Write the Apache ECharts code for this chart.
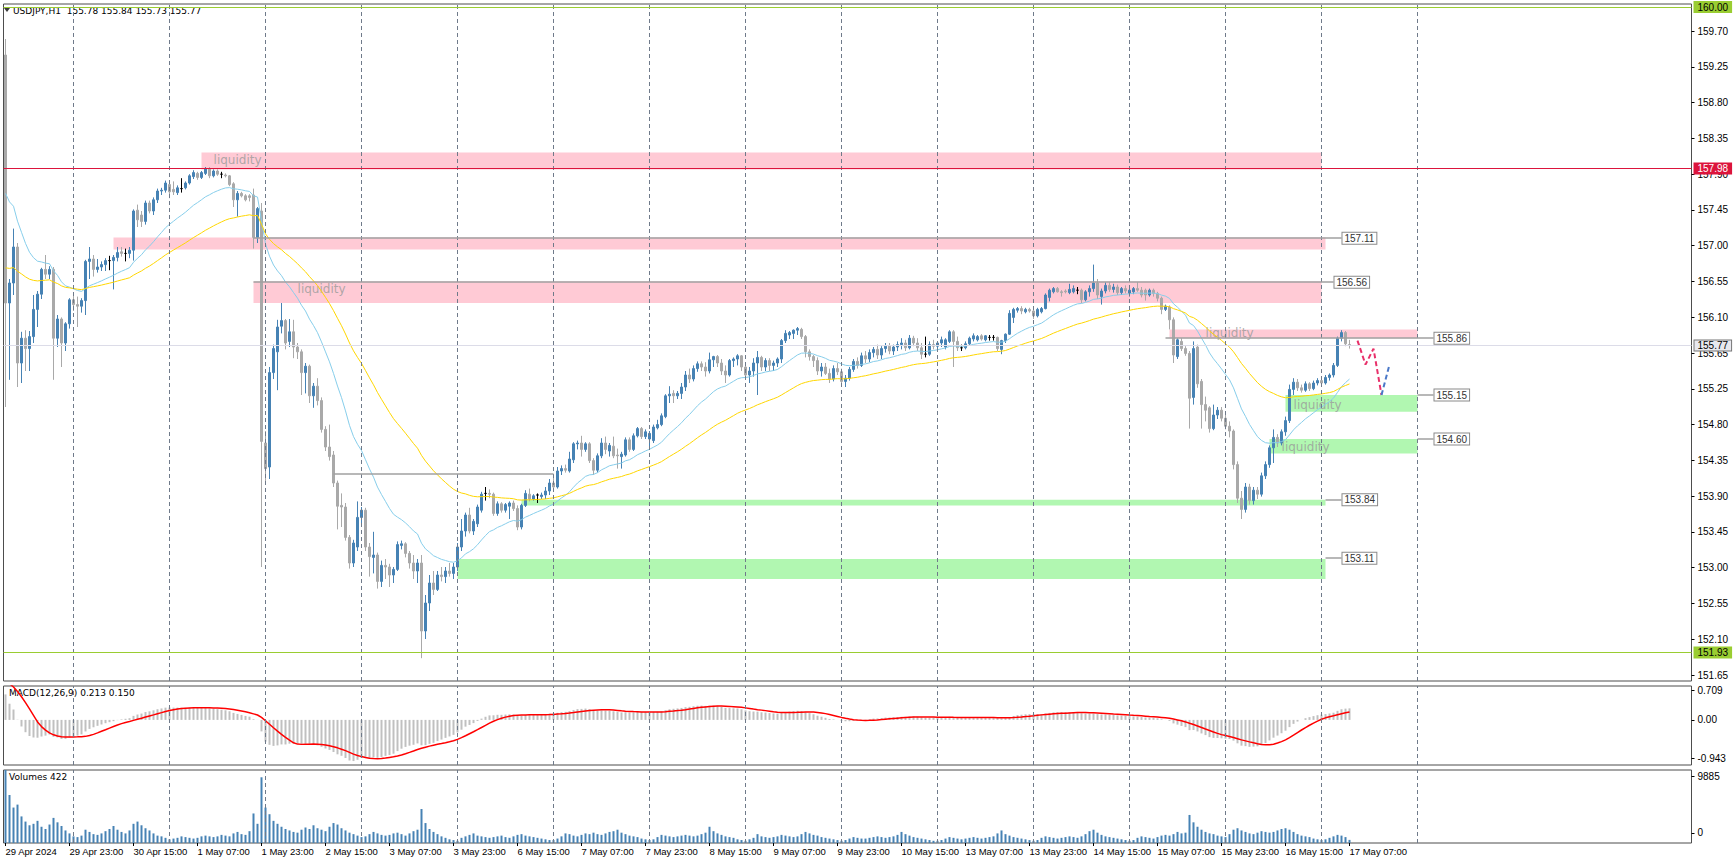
<!DOCTYPE html>
<html><head><meta charset="utf-8"><title>USDJPY H1</title>
<script src="https://cdn.jsdelivr.net/npm/echarts@6.0.0/dist/echarts.min.js"></script>
<style>html,body{margin:0;padding:0;background:#fff;}#chart{width:1733px;height:862px;}</style>
</head><body><div id="chart"></div>
<script>
// ---------- DATA ----------
// [open, high, low, close], one row per H1 bar, first bar 29 Apr 07:00
const ohlcRows = [
[159.40,159.60,155.00,156.30],[156.30,156.60,155.34,156.55],[156.55,157.23,156.40,157.00],[157.00,157.05,155.25,155.55],
[155.55,155.94,155.30,155.86],[155.86,155.96,155.45,155.73],[155.73,155.95,155.45,155.88],[155.88,156.40,155.80,156.22],
[156.22,156.45,156.00,156.41],[156.41,156.74,156.35,156.72],[156.72,156.90,156.60,156.66],[156.66,156.76,156.60,156.72],
[156.72,156.75,155.34,155.86],[155.86,156.15,155.75,156.10],[156.10,156.12,155.50,155.80],[155.80,156.06,155.70,156.04],
[156.04,156.36,155.98,156.34],[156.34,156.39,156.20,156.28],[156.28,156.38,156.00,156.26],[156.26,156.36,156.18,156.33],
[156.33,156.84,156.15,156.82],[156.82,157.00,156.60,156.85],[156.85,156.90,156.63,156.72],[156.72,156.85,156.68,156.75],
[156.75,156.82,156.70,156.78],[156.78,156.86,156.70,156.83],[156.83,156.89,156.71,156.83],[156.83,156.90,156.47,156.87],
[156.87,157.00,156.82,156.93],[156.94,157.00,156.88,156.92],[156.92,156.98,156.82,156.92],[156.92,157.00,156.86,156.96],
[156.96,157.47,156.83,157.45],[157.46,157.53,157.25,157.34],[157.40,157.45,157.25,157.32],[157.32,157.58,157.28,157.55],
[157.55,157.58,157.42,157.45],[157.45,157.62,157.40,157.59],[157.59,157.73,157.55,157.70],[157.70,157.74,157.65,157.71],
[157.71,157.83,157.68,157.80],[157.78,157.80,157.61,157.69],[157.72,157.82,157.65,157.69],[157.68,157.77,157.65,157.74],
[157.73,157.86,157.68,157.73],[157.74,157.82,157.72,157.80],[157.80,157.91,157.78,157.89],[157.88,157.96,157.85,157.93],
[157.92,157.94,157.84,157.87],[157.87,157.95,157.85,157.93],[157.92,158.00,157.90,157.98],[157.98,158.00,157.86,157.89],
[157.89,157.97,157.87,157.95],[157.95,157.97,157.89,157.91],[157.91,157.94,157.86,157.91],[157.90,157.92,157.87,157.89],
[157.89,157.90,157.76,157.78],[157.79,157.81,157.50,157.59],[157.59,157.70,157.38,157.67],[157.67,157.69,157.62,157.64],
[157.64,157.66,157.57,157.59],[157.64,157.66,157.57,157.62],[157.65,157.73,156.98,157.12],[157.12,157.50,157.05,157.48],
[157.45,157.55,153.00,154.57],[154.55,154.70,154.05,154.23],[154.25,155.50,154.10,155.43],[155.43,155.78,155.35,155.73],
[155.69,156.09,155.21,156.00],[156.01,156.30,155.92,156.08],[156.08,156.10,155.72,155.80],[155.82,156.10,155.75,155.94],
[155.94,156.09,155.61,155.75],[155.75,155.80,155.60,155.69],[155.69,155.72,155.15,155.43],[155.43,155.55,155.17,155.51],
[155.51,155.53,155.05,155.14],[155.14,155.30,154.99,155.26],[155.26,155.36,155.02,155.08],[155.08,155.12,154.68,154.72],
[154.72,154.76,154.45,154.50],[154.50,154.78,154.33,154.38],[154.40,154.45,154.00,154.05],[154.05,154.08,153.47,153.76],
[153.77,153.92,153.50,153.75],[153.75,153.80,153.33,153.37],[153.37,153.40,152.98,153.05],[153.05,153.34,153.00,153.30],
[153.25,153.82,153.20,153.62],[153.62,153.75,153.55,153.71],[153.71,153.74,153.20,153.25],[153.25,153.30,152.88,153.13],
[153.12,153.44,152.92,153.15],[153.15,153.18,152.73,152.82],[152.82,153.08,152.75,153.02],[153.02,153.10,152.85,153.00],
[153.00,153.04,152.75,152.90],[152.90,153.00,152.80,152.97],[152.97,153.32,152.95,153.28],[153.27,153.33,153.22,153.29],
[153.29,153.31,153.12,153.17],[153.17,153.20,152.98,153.05],[153.05,153.15,152.85,152.95],[152.95,153.10,152.80,153.05],
[153.05,153.15,151.86,152.20],[152.20,152.65,152.10,152.55],[152.55,152.90,152.45,152.80],[152.80,152.95,152.65,152.72],
[152.72,152.95,152.70,152.90],[152.90,153.00,152.82,152.88],[152.88,153.00,152.80,152.95],[152.95,153.05,152.88,152.92],
[152.92,153.05,152.85,153.00],[153.00,153.30,152.95,153.25],[153.25,153.60,153.20,153.45],[153.45,153.68,153.38,153.65],
[153.65,153.74,153.42,153.45],[153.45,153.60,153.40,153.57],[153.54,153.78,153.50,153.75],[153.71,153.94,153.68,153.91],
[153.92,154.00,153.83,153.92],[153.92,153.97,153.86,153.91],[153.91,153.93,153.64,153.67],[153.67,153.82,153.64,153.79],
[153.79,153.81,153.68,153.71],[153.71,153.80,153.68,153.78],[153.76,153.82,153.60,153.80],[153.80,153.83,153.70,153.73],
[153.73,153.77,153.46,153.50],[153.50,153.79,153.47,153.77],[153.77,153.96,153.75,153.92],[153.91,153.98,153.82,153.85],
[153.85,153.91,153.83,153.89],[153.90,153.92,153.80,153.90],[153.88,153.93,153.85,153.90],[153.90,154.00,153.85,153.95],
[153.95,154.10,153.90,154.05],[154.05,154.15,153.95,154.00],[154.00,154.25,153.98,154.20],[154.20,154.27,154.15,154.23],
[154.23,154.28,154.18,154.21],[154.20,154.44,154.18,154.35],[154.34,154.56,154.30,154.54],[154.54,154.58,154.47,154.55],
[154.55,154.64,154.38,154.47],[154.47,154.56,154.44,154.54],[154.54,154.56,154.30,154.33],[154.33,154.36,154.15,154.21],
[154.21,154.42,154.18,154.39],[154.39,154.61,154.36,154.55],[154.55,154.63,154.41,154.47],[154.45,154.55,154.38,154.52],
[154.51,154.63,154.36,154.39],[154.40,154.48,154.23,154.39],[154.38,154.44,154.23,154.41],[154.40,154.62,154.38,154.59],
[154.59,154.62,154.44,154.47],[154.47,154.67,154.45,154.64],[154.64,154.75,154.62,154.73],[154.73,154.75,154.60,154.63],
[154.63,154.72,154.60,154.69],[154.60,154.70,154.51,154.67],[154.58,154.78,154.55,154.75],[154.74,154.84,154.72,154.78],
[154.78,154.92,154.76,154.89],[154.88,155.16,154.86,155.14],[155.14,155.26,155.05,155.16],[155.17,155.21,155.05,155.14],
[155.14,155.20,155.10,155.17],[155.17,155.30,155.10,155.25],[155.25,155.45,155.20,155.40],[155.40,155.48,155.30,155.35],
[155.35,155.52,155.32,155.48],[155.48,155.57,155.44,155.54],[155.54,155.57,155.45,155.50],[155.50,155.56,155.38,155.45],
[155.45,155.68,155.42,155.59],[155.59,155.64,155.50,155.63],[155.63,155.65,155.50,155.55],[155.55,155.60,155.40,155.45],
[155.45,155.52,155.30,155.40],[155.40,155.60,155.38,155.58],[155.58,155.62,155.50,155.60],[155.60,155.66,155.52,155.64],
[155.64,155.65,155.45,155.50],[155.50,155.55,155.35,155.40],[155.40,155.50,155.30,155.45],[155.45,155.61,155.38,155.55],
[155.55,155.70,155.15,155.62],[155.62,155.64,155.45,155.50],[155.50,155.61,155.45,155.58],[155.58,155.61,155.45,155.52],
[155.52,155.58,155.45,155.55],[155.55,155.62,155.50,155.60],[155.60,155.85,155.55,155.83],[155.83,155.96,155.80,155.92],
[155.90,155.95,155.85,155.93],[155.92,155.97,155.85,155.96],[155.96,156.00,155.90,155.98],[155.97,155.99,155.85,155.88],
[155.88,155.90,155.62,155.69],[155.69,155.72,155.58,155.63],[155.63,155.65,155.50,155.58],[155.58,155.62,155.40,155.45],
[155.45,155.55,155.38,155.50],[155.50,155.55,155.40,155.42],[155.42,155.48,155.30,155.35],[155.35,155.52,155.32,155.48],
[155.48,155.55,155.40,155.44],[155.44,155.48,155.28,155.32],[155.32,155.40,155.25,155.36],[155.36,155.50,155.33,155.47],
[155.47,155.60,155.44,155.57],[155.57,155.62,155.48,155.52],[155.52,155.68,155.50,155.64],[155.64,155.70,155.55,155.60],
[155.60,155.72,155.56,155.68],[155.68,155.75,155.62,155.72],[155.72,155.78,155.60,155.65],[155.65,155.76,155.60,155.73],
[155.73,155.80,155.68,155.76],[155.76,155.80,155.66,155.70],[155.70,155.78,155.65,155.75],[155.75,155.82,155.70,155.78],
[155.78,155.86,155.72,155.80],[155.80,155.84,155.70,155.74],[155.74,155.90,155.72,155.86],[155.86,155.89,155.76,155.80],
[155.80,155.86,155.70,155.74],[155.74,155.80,155.60,155.66],[155.66,155.88,155.62,155.66],[155.66,155.82,155.64,155.78],
[155.78,155.84,155.72,155.76],[155.76,155.82,155.70,155.80],[155.80,155.88,155.75,155.84],[155.75,155.86,155.72,155.84],
[155.82,155.96,155.80,155.94],[155.94,155.96,155.50,155.82],[155.82,155.88,155.70,155.74],[155.74,155.78,155.70,155.74],
[155.74,155.82,155.72,155.79],[155.79,155.88,155.77,155.86],[155.85,155.92,155.82,155.89],[155.84,155.90,155.82,155.88],
[155.89,155.91,155.83,155.85],[155.84,155.90,155.82,155.89],[155.87,155.90,155.83,155.87],[155.87,155.90,155.83,155.87],
[155.87,155.88,155.70,155.73],[155.72,155.84,155.66,155.83],[155.83,155.92,155.80,155.91],[155.91,156.21,155.90,156.17],
[156.12,156.24,156.05,156.22],[156.21,156.25,156.18,156.23],[156.23,156.26,156.16,156.20],[156.19,156.24,156.17,156.22],
[156.22,156.24,156.18,156.20],[156.20,156.22,156.10,156.14],[156.14,156.24,156.12,156.22],[156.19,156.25,156.17,156.23],
[156.23,156.42,156.22,156.40],[156.37,156.48,156.32,156.46],[156.44,156.50,156.42,156.48],[156.48,156.50,156.43,156.44],
[156.44,156.46,156.38,156.43],[156.45,156.47,156.42,156.44],[156.43,156.54,156.41,156.47],[156.44,156.52,156.42,156.48],
[156.46,156.50,156.41,156.46],[156.46,156.48,156.30,156.34],[156.34,156.46,156.32,156.44],[156.44,156.52,156.38,156.48],
[156.48,156.78,156.44,156.55],[156.55,156.60,156.35,156.40],[156.38,156.48,156.28,156.45],[156.45,156.56,156.42,156.52],
[156.52,156.56,156.44,156.47],[156.47,156.54,156.43,156.50],[156.50,156.53,156.40,156.43],[156.43,156.50,156.40,156.48],
[156.48,156.52,156.42,156.45],[156.42,156.48,156.38,156.46],[156.44,156.50,156.41,156.48],[156.48,156.56,156.44,156.46],
[156.46,156.50,156.37,156.40],[156.46,156.48,156.33,156.40],[156.40,156.48,156.38,156.46],[156.46,156.48,156.38,156.42],
[156.42,156.44,156.32,156.36],[156.36,156.38,156.16,156.22],[156.22,156.28,156.20,156.26],[156.25,156.27,155.97,156.09],
[156.09,156.12,155.55,155.65],[155.63,155.86,155.60,155.84],[155.82,155.86,155.70,155.73],[155.73,155.76,155.64,155.67],
[155.67,155.70,154.73,155.11],[155.12,155.82,155.03,155.73],[155.75,155.78,155.24,155.29],[155.32,155.35,154.73,155.03],
[155.03,155.13,154.82,154.96],[154.99,155.01,154.68,154.73],[154.73,155.03,154.71,154.90],[154.90,155.00,154.85,154.96],
[154.96,155.00,154.82,154.86],[154.86,154.90,154.72,154.76],[154.76,154.82,154.62,154.70],[154.70,154.72,154.22,154.28],
[154.28,154.32,153.80,153.86],[153.86,153.95,153.60,153.72],[153.72,154.05,153.68,154.00],[154.00,154.04,153.78,153.83],
[153.83,154.00,153.78,153.96],[153.96,154.00,153.85,153.91],[153.91,154.18,153.88,154.14],[154.14,154.32,154.10,154.28],
[154.28,154.52,154.24,154.49],[154.49,154.72,154.30,154.62],[154.62,154.66,154.50,154.55],[154.55,154.72,154.52,154.69],
[154.69,154.88,154.64,154.83],[154.83,155.28,154.80,155.22],[155.22,155.36,155.15,155.31],[155.31,155.35,155.20,155.24],
[155.24,155.28,155.18,155.21],[155.21,155.32,155.19,155.29],[155.29,155.31,155.20,155.23],[155.23,155.33,155.21,155.30],
[155.30,155.36,155.27,155.33],[155.33,155.36,155.26,155.30],[155.30,155.40,155.28,155.37],[155.37,155.42,155.33,155.40],
[155.40,155.55,155.37,155.52],[155.52,155.88,155.50,155.86],[155.86,155.96,155.82,155.93],[155.93,155.95,155.76,155.79],
[155.78,155.84,155.73,155.77]
];
// tick volume per bar
const tickVolumes = [
9885,6500,4800,5200,3600,2900,2400,2600,3000,2200,1900,2500,3400,2800,2300,1700,1300,
900,800,1000,1800,1500,1200,1100,1300,1600,1900,2300,1800,1500,1300,1700,2600,2900,2400,2000,1700,1300,1000,900,700,
500,600,700,900,800,700,600,700,900,1000,900,800,900,1100,1000,900,1300,1500,1200,1100,1600,4000,2600,8900,
4800,3900,3000,2600,2200,1900,1700,1500,1400,1800,2100,1900,2400,2000,1800,1600,2200,2700,2500,2000,1700,1400,1200,1000,
800,900,1200,1500,1300,1100,1000,1100,1300,1400,1200,1000,1300,1600,1800,4600,2700,1900,1500,1200,900,700,500,400,
300,700,900,1100,1300,1000,900,800,700,800,900,1000,800,700,900,1100,1200,1000,900,800,700,600,500,400,
400,600,900,1300,1200,1000,900,1100,1300,1200,1400,1200,1100,1300,1500,1600,1800,1400,1200,1000,900,800,600,500,
400,500,800,1100,1000,900,800,900,1000,1100,1000,900,1000,1200,1400,2200,1600,1300,1100,900,800,700,500,400,
300,500,700,1200,900,800,700,800,900,1100,1000,900,800,900,1200,1500,1300,1100,1000,800,700,600,500,400,
300,400,600,800,700,600,600,700,800,900,800,700,800,900,1100,1500,1200,1000,800,700,600,500,400,300,
300,400,600,800,700,600,500,600,700,800,700,600,700,800,900,1300,1700,1200,1000,800,700,600,500,400,
300,400,700,900,800,700,600,700,800,900,800,700,900,1200,1600,1800,1400,1100,900,800,700,600,500,400,
300,400,700,900,800,700,600,800,1000,1100,1000,1200,1500,1300,1400,3800,2800,2200,1800,1500,1300,1200,1000,900,
800,1200,1800,2000,1700,1500,1300,1200,1400,1600,1500,1400,1500,1700,1900,2000,1800,1500,1200,1000,900,800,600,500,
400,500,700,900,1100,1000,800,422
];
const timeTickLabels = ['29 Apr 2024','29 Apr 23:00','30 Apr 15:00','1 May 07:00','1 May 23:00','2 May 15:00',
  '3 May 07:00','3 May 23:00','6 May 15:00','7 May 07:00','7 May 23:00','8 May 15:00','9 May 07:00','9 May 23:00',
  '10 May 15:00','13 May 07:00','13 May 23:00','14 May 15:00','15 May 07:00','15 May 23:00','16 May 15:00','17 May 07:00'];
const priceTickLabels = ['159.70','159.25','158.80','158.35','157.90','157.45','157.00','156.55','156.10','155.65',
  '155.25','154.80','154.35','153.90','153.45','153.00','152.55','152.10','151.65'];
const macdTickLabels = ['0.709','0.00','-0.943'];
const volumeTickLabels = ['9885','0'];
const headerQuote = ['155.78','155.84','155.73','155.77'];
const macdReadout = ['0.213','0.150'];
const volumeReadout = ['422'];
const maSeeds = [157.67, 156.74];          // EMA20 / EMA50 read at first bar
const macdSeeds = [158.9, 158.1, 0.85];    // EMA12, EMA26, MACD just before first bar
// zones: [startBar, endBar], [top, bottom], kind
const zoneBars = [[49,329],[27,330],[62,329],[291,353],[320,353],[316,353],[129,330],[113,330]];
const zonePrices = [[158.18,157.97],[157.12,156.97],[156.57,156.30],[155.97,155.86],[155.15,154.94],[154.60,154.42],[153.84,153.77],[153.10,152.85]];
const zoneKinds = ['supply','supply','supply','supply','demand','demand','demand','demand'];
const levelValues = [157.11,156.56,155.86,155.15,154.60,153.84,153.11];
const levelBars = [[62,334],[62,332],[290,357],[353,357],[353,357],[330,334],[330,334]];
const trendLine = [[82,154.16],[137,154.16]];
const liquidityTextAt = [[52,158.09],[73,156.48],[300,155.92],[322,155.03],[319,154.50]];
const liquidityWord = 'liquidity';
const fullLines = [157.98,155.77,151.93,160.00];
const pathDown = [[338,155.83],[340,155.53],[342,155.73],[344,155.15]];
const pathUp = [[344,155.15],[346,155.53]];

// ---------- BUILD ----------
const SLOTS = 422;
const cats = Array.from({length: SLOTS}, (_, i) => String(i));
const candleData = ohlcRows.map(r => [r[0], r[3], r[2], r[1]]);
const closes = ohlcRows.map(r => r[3]);
function emaSeeded(vals, period, seed) {
  const a = 2 / (period + 1); let e = seed;
  return vals.map((v, i) => { if (i > 0) e = e + a * (v - e); return +e.toFixed(4); });
}
const ema20 = emaSeeded(closes, 20, maSeeds[0]);
const ema50 = emaSeeded(closes, 50, maSeeds[1]);
let e12 = macdSeeds[0], e26 = macdSeeds[1];
const macdMain = closes.map(c => { e12 += (2/13)*(c-e12); e26 += (2/27)*(c-e26); return +(e12-e26).toFixed(4); });
const macdSignal = macdMain.map((v, i) => { let s = 0; for (let k = i-8; k <= i; k++) s += k < 0 ? macdSeeds[2] : macdMain[k]; return +(s/9).toFixed(4); });

const priceTop = 159.70, priceBottom = 151.65;
const priceTickPos = priceTickLabels.map((t, k) => priceTop - k * (priceTop - priceBottom) / (priceTickLabels.length - 1));
const macdTickPos = [0.625, 0, -0.80];
const volumeTickPos = [9060, 1370];
function nearestLabel(pos, labels, v) { let b = 0; pos.forEach((p, i) => { if (Math.abs(p - v) < Math.abs(pos[b] - v)) b = i; }); return labels[b]; }

const gridIdx = []; for (let i = 17; i <= 353; i += 24) gridIdx.push(i);
const vLines = gridIdx.map(i => ({xAxis: i, label: {show: false}, lineStyle: {color: '#6f7a8a', type: [4, 3], width: 1}}));
const timeShown = i => i % 16 === 0 && i / 16 < timeTickLabels.length;

const zoneColor = {supply: 'rgba(255,190,204,0.82)', demand: 'rgba(160,245,160,0.82)'};
const zoneArea = zoneBars.map((b, k) => [
  {coord: [b[0], zonePrices[k][0]], itemStyle: {color: zoneColor[zoneKinds[k]]}},
  {coord: [b[1], zonePrices[k][1]], itemStyle: {color: zoneColor[zoneKinds[k]]}}
]);
const levelLabel = t => ({show: true, position: 'end', distance: 1, formatter: t, color: '#333', fontSize: 10,
  fontFamily: 'Liberation Sans', backgroundColor: '#fff', borderColor: '#8a8a8a', borderWidth: 1, padding: [1, 2, 0, 2]});
const levelLines = levelValues.map((v, k) => {
  const st = {color: '#a0a0a0', width: 1.5, type: 'solid'};
  return [{coord: [levelBars[k][0], v], lineStyle: st, label: levelLabel(v.toFixed(2))},
          {coord: [levelBars[k][1], v], lineStyle: st, label: levelLabel(v.toFixed(2))}];
});
const trendStyle = {color: '#a0a0a0', width: 1.5, type: 'solid'};
const trendSeg = [[{coord: trendLine[0], lineStyle: trendStyle, label: {show: false}},
                   {coord: trendLine[1], lineStyle: trendStyle, label: {show: false}}]];
const fullStyles = [
  {line: '#dc143c', bg: '#dc143c', fg: '#fff', border: '#dc143c'},
  {line: '#dcdce8', bg: '#e8e8ee', fg: '#000', border: '#777'},
  {line: '#9acd32', bg: '#9acd32', fg: '#000', border: '#9acd32'},
  {line: '#9acd32', bg: '#9acd32', fg: '#000', border: '#9acd32'}
];
const fullMarks = fullLines.map((v, k) => ({
  yAxis: v, lineStyle: {color: fullStyles[k].line, width: 1, type: 'solid'},
  label: {show: true, position: 'end', distance: 3, formatter: v.toFixed(2), color: fullStyles[k].fg, fontSize: 10,
    fontFamily: 'Liberation Sans', backgroundColor: fullStyles[k].bg, borderColor: fullStyles[k].border, borderWidth: 1, padding: [0, 3, 0, 3]}
}));

const axisFont = {fontFamily: 'Liberation Sans', fontSize: 10, color: '#000'};
const grids = [
  {left: 3.5, width: 1688, top: 4, height: 677},
  {left: 3.5, width: 1688, top: 686, height: 79},
  {left: 3.5, width: 1688, top: 770, height: 73}
].map(g => Object.assign(g, {show: true, borderColor: '#4d4d4d', borderWidth: 1, backgroundColor: 'transparent'}));

const xAxes = [0, 1, 2].map(g => ({
  type: 'category', gridIndex: g, data: cats, boundaryGap: true,
  axisLine: {show: false}, splitLine: {show: false},
  axisTick: g === 2 ? {show: true, interval: i => timeShown(i), alignWithLabel: true, length: 3, lineStyle: {color: '#000'}} : {show: false},
  axisLabel: g === 2 ? {show: true, interval: i => timeShown(i), align: 'left', margin: 3, fontSize: 9.5,
      fontFamily: 'Liberation Sans', color: '#000', formatter: (v, i) => timeTickLabels[i / 16]} : {show: false}
}));
const yAxes = [
  {gridIndex: 0, type: 'value', position: 'right', min: 151.575, max: 160.0375, scale: true,
   splitLine: {show: false}, axisLine: {show: false},
   axisTick: {show: true, length: 3, customValues: priceTickPos, lineStyle: {color: '#000'}},
   axisLabel: Object.assign({customValues: priceTickPos, margin: 6, formatter: v => nearestLabel(priceTickPos, priceTickLabels, v)}, axisFont)},
  {gridIndex: 1, type: 'value', position: 'right', min: -0.943, max: 0.709,
   splitLine: {show: false}, axisLine: {show: false},
   axisTick: {show: true, length: 3, customValues: macdTickPos, lineStyle: {color: '#000'}},
   axisLabel: Object.assign({customValues: macdTickPos, margin: 6, formatter: v => nearestLabel(macdTickPos, macdTickLabels, v)}, axisFont)},
  {gridIndex: 2, type: 'value', position: 'right', min: 0, max: 9885,
   splitLine: {show: false}, axisLine: {show: false},
   axisTick: {show: true, length: 3, customValues: volumeTickPos, lineStyle: {color: '#000'}},
   axisLabel: Object.assign({customValues: volumeTickPos, margin: 6, formatter: v => nearestLabel(volumeTickPos, volumeTickLabels, v)}, axisFont)}
];

const option = {
  animation: false,
  backgroundColor: '#ffffff',
  textStyle: {fontFamily: 'Liberation Sans'},
  grid: grids, xAxis: xAxes, yAxis: yAxes,
  graphic: [
    {type: 'text', left: 13, top: 6, style: {text: 'USDJPY,H1  ' + headerQuote.join(' '), font: '9px "DejaVu Sans"', fill: '#000'}},
    {type: 'polygon', shape: {points: [[4, 8], [10, 8], [7, 12]]}, style: {fill: '#3a3a3a'}},
    {type: 'text', left: 9, top: 688, style: {text: 'MACD(12,26,9) ' + macdReadout.join(' '), font: '9px "DejaVu Sans"', fill: '#000'}},
    {type: 'text', left: 9, top: 772, style: {text: 'Volumes ' + volumeReadout[0], font: '9px "DejaVu Sans"', fill: '#000'}}
  ],
  series: [
    {type: 'candlestick', name: 'USDJPY', xAxisIndex: 0, yAxisIndex: 0, data: candleData, barWidth: 2,
     itemStyle: {color: '#4682b4', color0: '#a9a9a9', borderColor: '#4682b4', borderColor0: '#a9a9a9', borderColorDoji: '#000', borderWidth: 1},
     markArea: {silent: true, label: {show: false}, data: zoneArea},
     markLine: {silent: true, symbol: ['none', 'none'], animation: false,
       data: vLines.concat(fullMarks).concat(levelLines).concat(trendSeg)}},
    {type: 'line', name: 'EMA20', xAxisIndex: 0, yAxisIndex: 0, data: ema20, showSymbol: false, symbol: 'none',
     lineStyle: {color: '#87ceeb', width: 1}},
    {type: 'line', name: 'EMA50', xAxisIndex: 0, yAxisIndex: 0, data: ema50, showSymbol: false, symbol: 'none',
     lineStyle: {color: '#ffd700', width: 1}},
    {type: 'scatter', name: 'liq', xAxisIndex: 0, yAxisIndex: 0, data: liquidityTextAt, symbolSize: 0.1, silent: true,
     label: {show: true, position: 'right', distance: 0, formatter: liquidityWord, color: '#9a9a9a', fontSize: 12, fontFamily: 'DejaVu Sans'}},
    {type: 'line', name: 'pathDown', xAxisIndex: 0, yAxisIndex: 0, data: pathDown, symbol: 'none',
     lineStyle: {color: '#e8306a', width: 2, type: [5, 3]}},
    {type: 'line', name: 'pathUp', xAxisIndex: 0, yAxisIndex: 0, data: pathUp, symbol: 'none',
     lineStyle: {color: '#4a78c8', width: 2, type: [5, 3]}},
    {type: 'bar', name: 'MACD', xAxisIndex: 1, yAxisIndex: 1, data: macdMain, barWidth: 2,
     itemStyle: {color: '#c0c0c0'},
     markLine: {silent: true, symbol: ['none', 'none'], data: vLines}},
    {type: 'line', name: 'Signal', xAxisIndex: 1, yAxisIndex: 1, data: macdSignal, symbol: 'none',
     lineStyle: {color: '#ff0000', width: 1.5}},
    {type: 'bar', name: 'Volumes', xAxisIndex: 2, yAxisIndex: 2, data: tickVolumes, barWidth: 2,
     itemStyle: {color: '#4682b4'},
     markLine: {silent: true, symbol: ['none', 'none'], data: vLines}}
  ]
};
const chart = echarts.init(document.getElementById('chart'), null, {renderer: 'svg', width: 1733, height: 862});
chart.setOption(option);
</script></body></html>
